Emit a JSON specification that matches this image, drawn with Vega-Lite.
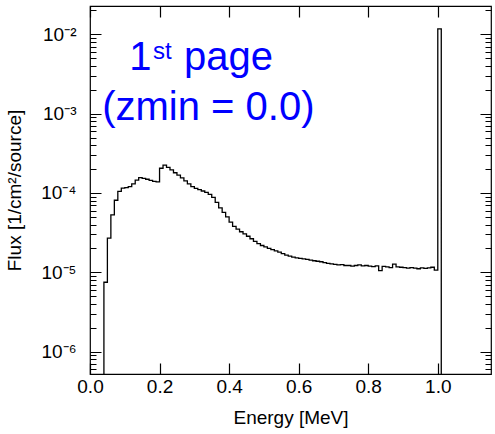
{
  "$schema": "https://vega.github.io/schema/vega-lite/v6.json",
  "autosize": {"type": "none"},
  "padding": {"left": 90, "top": 6, "right": 4, "bottom": 60},
  "width": 401,
  "height": 368,
  "background": "white",
  "config": {
    "font": "Liberation Sans",
    "view": {"stroke": "black", "strokeWidth": 1.2},
    "axis": {
      "ticks": false,
      "domain": false,
      "grid": true,
      "gridColor": "black",
      "gridOpacity": 1,
      "gridWidth": 1.2,
      "labelColor": "black",
      "titleColor": "black",
      "labelFont": "Liberation Sans",
      "titleFont": "Liberation Sans",
      "labelFontSize": 19,
      "titleFontSize": 19,
      "titleFontWeight": "normal",
      "labelFlush": false,
      "labelOverlap": false
    }
  },
  "datasets": {
    "hist": [
      {"E": 0.03, "flux": 1e-7},
      {"E": 0.04, "flux": 7.5e-6},
      {"E": 0.05, "flux": 2.7e-5},
      {"E": 0.06, "flux": 5.3e-5},
      {"E": 0.07, "flux": 8.1e-5},
      {"E": 0.08, "flux": 1.05e-4},
      {"E": 0.09, "flux": 1.15e-4},
      {"E": 0.10, "flux": 1.17e-4},
      {"E": 0.11, "flux": 1.2e-4},
      {"E": 0.12, "flux": 1.3e-4},
      {"E": 0.13, "flux": 1.45e-4},
      {"E": 0.14, "flux": 1.56e-4},
      {"E": 0.15, "flux": 1.53e-4},
      {"E": 0.16, "flux": 1.49e-4},
      {"E": 0.17, "flux": 1.44e-4},
      {"E": 0.18, "flux": 1.4e-4},
      {"E": 0.19, "flux": 1.38e-4},
      {"E": 0.20, "flux": 2.05e-4},
      {"E": 0.21, "flux": 2.25e-4},
      {"E": 0.22, "flux": 2.1e-4},
      {"E": 0.23, "flux": 1.95e-4},
      {"E": 0.24, "flux": 1.8e-4},
      {"E": 0.25, "flux": 1.68e-4},
      {"E": 0.26, "flux": 1.55e-4},
      {"E": 0.27, "flux": 1.42e-4},
      {"E": 0.28, "flux": 1.3e-4},
      {"E": 0.29, "flux": 1.2e-4},
      {"E": 0.30, "flux": 1.14e-4},
      {"E": 0.31, "flux": 1.1e-4},
      {"E": 0.32, "flux": 1.06e-4},
      {"E": 0.33, "flux": 1.02e-4},
      {"E": 0.34, "flux": 9.6e-5},
      {"E": 0.35, "flux": 8.8e-5},
      {"E": 0.36, "flux": 7.6e-5},
      {"E": 0.37, "flux": 6.5e-5},
      {"E": 0.38, "flux": 5.7e-5},
      {"E": 0.39, "flux": 5.0e-5},
      {"E": 0.40, "flux": 4.3e-5},
      {"E": 0.41, "flux": 3.8e-5},
      {"E": 0.42, "flux": 3.5e-5},
      {"E": 0.43, "flux": 3.25e-5},
      {"E": 0.44, "flux": 3.05e-5},
      {"E": 0.45, "flux": 2.85e-5},
      {"E": 0.46, "flux": 2.65e-5},
      {"E": 0.47, "flux": 2.45e-5},
      {"E": 0.48, "flux": 2.3e-5},
      {"E": 0.49, "flux": 2.18e-5},
      {"E": 0.50, "flux": 2.1e-5},
      {"E": 0.51, "flux": 2.0e-5},
      {"E": 0.52, "flux": 1.93e-5},
      {"E": 0.53, "flux": 1.87e-5},
      {"E": 0.54, "flux": 1.8e-5},
      {"E": 0.55, "flux": 1.72e-5},
      {"E": 0.56, "flux": 1.65e-5},
      {"E": 0.57, "flux": 1.6e-5},
      {"E": 0.58, "flux": 1.56e-5},
      {"E": 0.59, "flux": 1.52e-5},
      {"E": 0.60, "flux": 1.5e-5},
      {"E": 0.61, "flux": 1.48e-5},
      {"E": 0.62, "flux": 1.46e-5},
      {"E": 0.63, "flux": 1.43e-5},
      {"E": 0.64, "flux": 1.4e-5},
      {"E": 0.65, "flux": 1.38e-5},
      {"E": 0.66, "flux": 1.36e-5},
      {"E": 0.67, "flux": 1.33e-5},
      {"E": 0.68, "flux": 1.3e-5},
      {"E": 0.69, "flux": 1.28e-5},
      {"E": 0.70, "flux": 1.26e-5},
      {"E": 0.71, "flux": 1.24e-5},
      {"E": 0.72, "flux": 1.25e-5},
      {"E": 0.73, "flux": 1.22e-5},
      {"E": 0.74, "flux": 1.22e-5},
      {"E": 0.75, "flux": 1.2e-5},
      {"E": 0.76, "flux": 1.22e-5},
      {"E": 0.77, "flux": 1.24e-5},
      {"E": 0.78, "flux": 1.21e-5},
      {"E": 0.79, "flux": 1.22e-5},
      {"E": 0.80, "flux": 1.2e-5},
      {"E": 0.81, "flux": 1.18e-5},
      {"E": 0.82, "flux": 1.21e-5},
      {"E": 0.83, "flux": 1.05e-5},
      {"E": 0.84, "flux": 1.19e-5},
      {"E": 0.85, "flux": 1.17e-5},
      {"E": 0.86, "flux": 1.15e-5},
      {"E": 0.87, "flux": 1.27e-5},
      {"E": 0.88, "flux": 1.17e-5},
      {"E": 0.89, "flux": 1.16e-5},
      {"E": 0.90, "flux": 1.15e-5},
      {"E": 0.91, "flux": 1.13e-5},
      {"E": 0.92, "flux": 1.15e-5},
      {"E": 0.93, "flux": 1.13e-5},
      {"E": 0.94, "flux": 1.11e-5},
      {"E": 0.95, "flux": 1.14e-5},
      {"E": 0.96, "flux": 1.12e-5},
      {"E": 0.97, "flux": 1.14e-5},
      {"E": 0.98, "flux": 1.16e-5},
      {"E": 0.99, "flux": 1.07e-5},
      {"E": 1.00, "flux": 1.17e-2},
      {"E": 1.01, "flux": 1e-7}
    ],
    "bigLeft": [
      {"E": 0.1129, "flux": 0.003552, "label": "1"},
      {"E": 0.2703, "flux": 0.003552, "label": "page"}
    ],
    "small": [
      {"E": 0.1812, "flux": 0.004886, "label": "st"}
    ],
    "bigCenter": [
      {"E": 0.3402, "flux": 0.000833, "label": "(zmin = 0.0)"}
    ]
  },
  "layer": [
    {
      "data": {"name": "hist"},
      "mark": {"type": "line", "interpolate": "step-after", "color": "black", "strokeWidth": 1.3, "clip": true},
      "encoding": {
        "x": {
          "field": "E", "type": "quantitative",
          "scale": {"domain": [0, 1.153], "nice": false, "zero": false, "padding": 0},
          "axis": {
            "orient": "bottom",
            "title": "Energy [MeV]",
            "values": [0, 0.1, 0.2, 0.3, 0.4, 0.5, 0.6, 0.7, 0.8, 0.9, 1.0, 1.1],
            "labelExpr": "round(datum.value*10) % 2 == 0 ? format(datum.value, '.1f') : ''",
            "gridDash": {"condition": {"test": "round(datum.value*10) % 2 == 0", "value": [11, 346, 11]}, "value": [6, 356, 6]},
            "labelPadding": 3,
            "titleX": 200.5,
            "titleY": 34,
            "titleBaseline": "top",
            "titleAnchor": "middle",
            "titleAlign": "center"
          }
        },
        "y": {
          "field": "flux", "type": "quantitative",
          "scale": {"type": "log", "domain": [5.24e-7, 0.0227], "nice": false, "padding": 0},
          "axis": {
            "orient": "left",
            "title": "Flux [1/cm²/source]",
            "values": [6e-7, 7e-7, 8e-7, 9e-7, 1e-6, 2e-6, 3e-6, 4e-6, 5e-6, 6e-6, 7e-6, 8e-6, 9e-6, 1e-5, 2e-5, 3e-5, 4e-5, 5e-5, 6e-5, 7e-5, 8e-5, 9e-5, 1e-4, 2e-4, 3e-4, 4e-4, 5e-4, 6e-4, 7e-4, 8e-4, 9e-4, 1e-3, 2e-3, 3e-3, 4e-3, 5e-3, 6e-3, 7e-3, 8e-3, 9e-3, 1e-2, 2e-2],
            "labelExpr": "abs(log(datum.value)/LN10 - round(log(datum.value)/LN10)) < 0.001 ? '10' + replace(replace(replace(replace(replace(replace(replace('' + round(log(datum.value)/LN10), '-', '⁻'), '2', '²'), '3', '³'), '4', '⁴'), '5', '⁵'), '6', '⁶'), '7', '⁷') : ''",
            "gridDash": {"condition": {"test": "abs(log(datum.value)/LN10 - round(log(datum.value)/LN10)) < 0.001", "value": [11, 379, 11]}, "value": [6, 389, 6]},
            "labelPadding": 14,
            "labelBaseline": "middle",
            "titleX": -70,
            "titleY": 184,
            "titleAngle": 270,
            "titleBaseline": "alphabetic",
            "titleAlign": "center",
            "titleAnchor": "middle"
          }
        }
      }
    },
    {
      "data": {"name": "bigLeft"},
      "mark": {"type": "text", "align": "left", "baseline": "alphabetic", "fontSize": 40, "color": "#0000ff", "font": "Liberation Sans"},
      "encoding": {
        "x": {"field": "E", "type": "quantitative"},
        "y": {"field": "flux", "type": "quantitative"},
        "text": {"field": "label"}
      }
    },
    {
      "data": {"name": "small"},
      "mark": {"type": "text", "align": "left", "baseline": "alphabetic", "fontSize": 24, "color": "#0000ff", "font": "Liberation Sans"},
      "encoding": {
        "x": {"field": "E", "type": "quantitative"},
        "y": {"field": "flux", "type": "quantitative"},
        "text": {"field": "label"}
      }
    },
    {
      "data": {"name": "bigCenter"},
      "mark": {"type": "text", "align": "center", "baseline": "alphabetic", "fontSize": 40, "color": "#0000ff", "font": "Liberation Sans"},
      "encoding": {
        "x": {"field": "E", "type": "quantitative"},
        "y": {"field": "flux", "type": "quantitative"},
        "text": {"field": "label"}
      }
    }
  ]
}
